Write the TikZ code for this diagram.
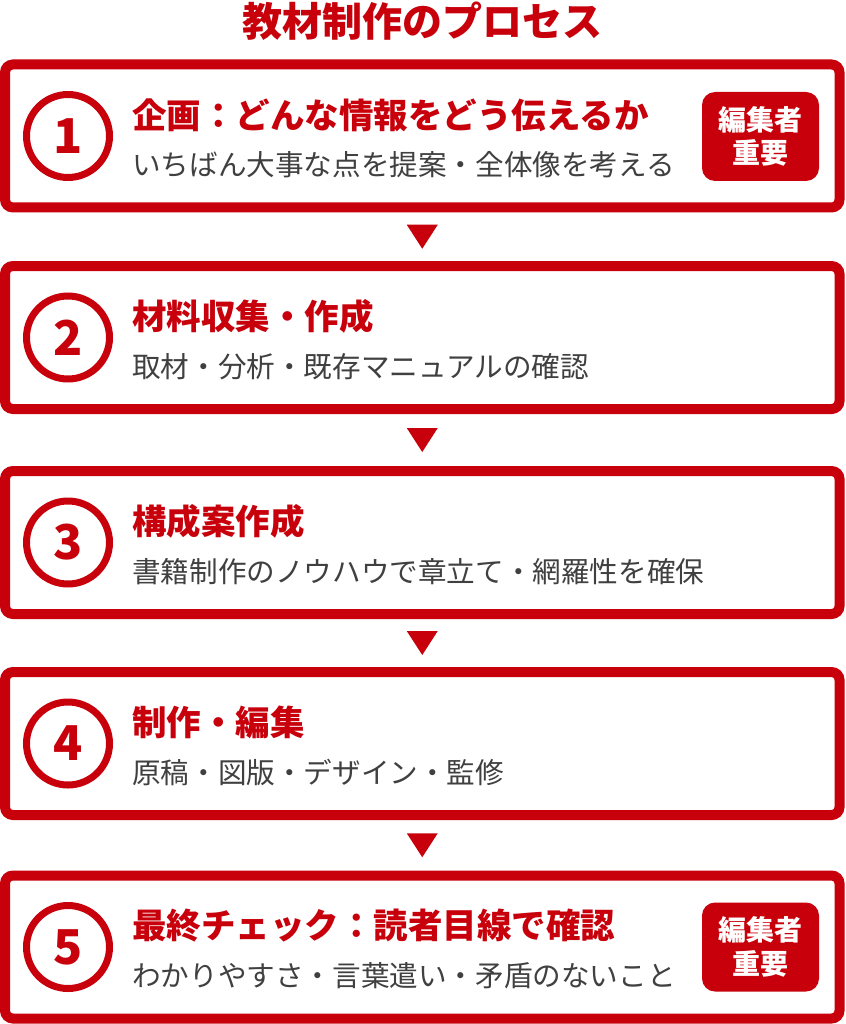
\documentclass[tikz,border=0pt]{standalone}
\usepackage{fontspec}
\newfontfamily\jp{Noto Sans CJK JP}
\definecolor{myred}{HTML}{C8000B}
\definecolor{mygray}{HTML}{404040}
\begin{document}
\begin{tikzpicture}[x=1pt,y=-1pt,
  stepbox/.style={draw=myred, line width=10pt, rounded corners=8pt, minimum width=834.5pt, minimum height=143pt, inner sep=0pt},
  numcircle/.style={circle, draw=myred, line width=7pt, minimum size=83pt, inner sep=0pt, font=\jp\bfseries\fontsize{48}{48}\selectfont, text=myred},
  headtext/.style={anchor=west, inner sep=0pt, text=myred, font=\jp\bfseries\fontsize{34.5}{34.5}\selectfont},
  subtext/.style={anchor=west, inner sep=0pt, text=mygray, font=\jp\fontsize{28.6}{28.6}\selectfont},
  badge/.style={fill=myred, rounded corners=13pt, minimum width=117pt, minimum height=89pt, inner sep=0pt, text=white, font=\jp\bfseries\fontsize{28}{33.5}\selectfont, align=center},
  titletext/.style={inner sep=0pt, text=myred, font=\jp\bfseries\fontsize{40}{40}\selectfont}
]
\useasboundingbox (0,0) rectangle (845,1024);
\fill[white] (0,0) rectangle (845,1024);

\node[titletext] (title) at (422,21) {教材制作のプロセス};

% boxes
\node[stepbox] (b1) at (422.25,136) {};
\node[stepbox] (b2) at (422.25,337.5) {};
\node[stepbox] (b3) at (422.25,542.5) {};
\node[stepbox] (b4) at (422.25,743.5) {};
\node[stepbox] (b5) at (422.25,947) {};

% numbers
\node[numcircle] (n1) at (68,136) {1};
\node[numcircle] (n2) at (68,337.5) {2};
\node[numcircle] (n3) at (68,542.5) {3};
\node[numcircle] (n4) at (68,743.5) {4};
\node[numcircle] (n5) at (68,947) {5};

% headings
\node[headtext] (h1) at (132,115) {企画：どんな情報をどう伝えるか};
\node[headtext] (h2) at (132,316.5) {材料収集・作成};
\node[headtext] (h3) at (132,521.5) {構成案作成};
\node[headtext] (h4) at (132,722.5) {制作・編集};
\node[headtext] (h5) at (132,926) {最終チェック：読者目線で確認};

% sub texts
\node[subtext] (s1) at (132,165) {いちばん大事な点を提案・全体像を考える};
\node[subtext] (s2) at (132,366.5) {取材・分析・既存マニュアルの確認};
\node[subtext] (s3) at (132,571.5) {書籍制作のノウハウで章立て・網羅性を確保};
\node[subtext] (s4) at (132,772.5) {原稿・図版・デザイン・監修};
\node[subtext] (s5) at (132,976) {わかりやすさ・言葉遣い・矛盾のないこと};

% badges
\node[badge] (k1) at (760.5,136.5) {編集者\\重要};
\node[badge] (k5) at (760.5,947) {編集者\\重要};

% arrows
\foreach \a/\b [count=\i] in {b1/b2,b2/b3,b3/b4,b4/b5}{
  \path (\a.south) -- (\b.north) coordinate[midway] (a\i);
  \fill[myred, shift={(a\i)}] (-15.5,-12) -- (15.5,-12) -- (0,12) -- cycle;
}
\end{tikzpicture}
\end{document}
